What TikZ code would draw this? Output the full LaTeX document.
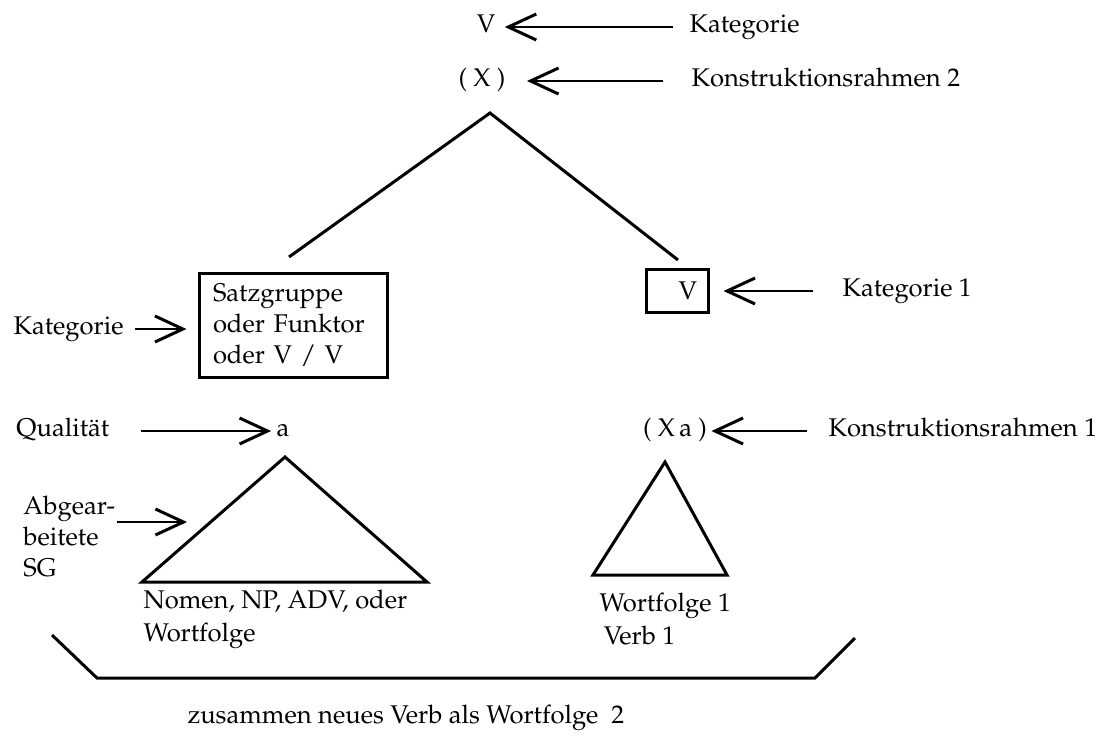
\documentclass[tikz,border=0pt]{standalone}
\usepackage[T1]{fontenc}
\usepackage{mathpazo}
\usetikzlibrary{arrows.meta,positioning}

\begin{document}
\begin{tikzpicture}[x=0.5pt,y=-0.5pt,line width=1.5pt,
  >={Straight Barb[length=14pt,width=13pt,line width=1.5pt]},
  every node/.style={font=\fontsize{12.8}{15.5}\selectfont,inner sep=0pt},
  lab/.style={text height=1.6ex,text depth=.4ex},
  arr/.style={->,line width=1pt},
  catbox/.style={draw,line width=1.5pt}]
        \useasboundingbox (0,0) rectangle (1098,736);
        %%%%%%%%%%%%%%%%%%%%%%%%%%% top of the tree %%%%%%%%%%%%%%%%%%%%%%
          \node[lab] (vtop) at (486,27) {V};
          \node[lab,anchor=west] (kat) at (688,27) {Kategorie};
          \node[lab] (xtop) at (482,81) {( X )};
          \node[lab,anchor=west] (kr2) at (690,81) {Konstruktionsrahmen 2};
          \coordinate (top) at (490,113);
          \coordinate (ltop) at (289,257);
          \coordinate (rtop) at (678,260);

          \draw[arr,shorten <=7.5pt,shorten >=4pt] (kat) -- (vtop);
          \draw[arr,shorten <=13.5pt,shorten >=10pt] (kr2) -- (xtop);

          \draw (ltop) -- (top) -- (rtop);

        %%%%%%%%%%%%%%%%%%%%%%%%%%% the two categories %%%%%%%%%%%%%%%%%%%%
          \node[catbox,text width=80pt,inner xsep=7pt,minimum height=52pt,
            align=left] (sg) at (293,325)
            {Satzgruppe\\oder Funktor\\oder V / V};
          \node[lab,anchor=west] (katl) at (12,329) {Kategorie};
          \draw[arr,shorten <=5pt,shorten >=5.5pt] (katl) -- (katl -| sg.west);

          \node[catbox,text width=20pt,inner xsep=5.5pt,minimum height=21.5pt,
            align=right] (vbox) at (677,291) {V};
          \node[lab,anchor=west] (kat1) at (841,291) {Kategorie 1};
          \draw[arr,shorten <=14pt,shorten >=7pt] (kat1) -- (vbox);

        %%%%%%%%%%%%%%%%%%%%%%%%%%% left subtree %%%%%%%%%%%%%%%%%%%%%%%%%%
          \node[lab,anchor=west] (qual) at (15,431) {Qualit\"at};
          \node[lab] (a) at (283,431) {a};
          \draw[arr,shorten <=15pt,shorten >=2pt] (qual) -- (a);

          \draw (285,457) -- (142,582) -- (427,582) -- cycle;

          \node[anchor=west,align=left] (abg) at (22,536) {Abgear-\\beitete\\SG};
          \coordinate (sgside) at (187,522);
          \draw[arr] (abg.east |- sgside) -- (sgside);

          \node[anchor=west,align=left] (nomen) at (142,619)
            {Nomen, NP, ADV, oder\\[1pt]Wortfolge};

        %%%%%%%%%%%%%%%%%%%%%%%%%%% right subtree %%%%%%%%%%%%%%%%%%%%%%%%%
          \node[lab] (xa) at (675,431) {( X\,a )};
          \node[lab,anchor=west] (kr1) at (827,431) {Konstruktionsrahmen 1};
          \draw[arr,shorten <=10pt,shorten >=1.5pt] (kr1) -- (xa);

          \draw (665,462) -- (593,575) -- (727,575) -- cycle;

          \node[anchor=west,align=left] (wf1) at (598,619)
            {Wortfolge 1\\[1pt]\,Verb 1};

        %%%%%%%%%%%%%%%%%%%%%%%%%%% bracket below %%%%%%%%%%%%%%%%%%%%%%%%%
          \draw (52,635) -- (97,678) -- (815,678) -- (855,638);
          \node[lab,anchor=west] (zus) at (186,718)
            {zusammen neues Verb als Wortfolge\ \ 2};
        \end{tikzpicture}
\end{document}
